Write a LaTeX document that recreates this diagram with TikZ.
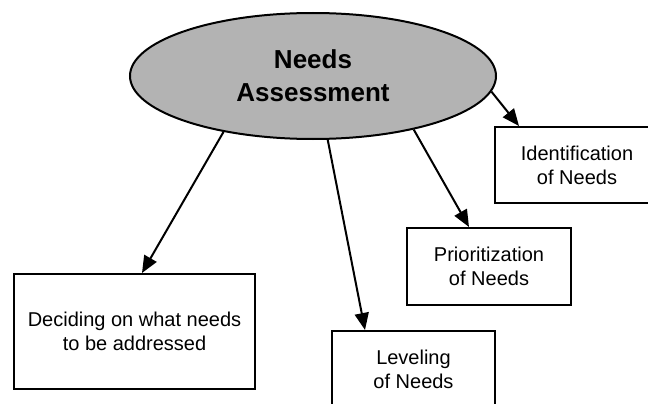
\documentclass[tikz,border=0pt]{standalone}
\usepackage{fontspec}
\setmainfont{Liberation Sans}
\usetikzlibrary{shapes.geometric,arrows.meta,calc}
\definecolor{ellgray}{RGB}{179,179,179}
\tikzset{
  mainell/.style={ellipse, draw=black, fill=ellgray, line width=2pt, inner sep=0pt,
    minimum width=366pt, minimum height=126pt, align=center,
    font=\fontsize{26pt}{33pt}\selectfont\bfseries},
  topicbox/.style={rectangle, draw=black, fill=white, line width=2pt, inner sep=0pt,
    align=center, font=\fontsize{20pt}{24pt}\selectfont},
  link/.style={line width=2pt, -{Triangle[length=17pt,width=14pt]}}
}
\begin{document}
\begin{tikzpicture}[x=1pt,y=-1pt]
\useasboundingbox (0,0) rectangle (648,404);
\clip (0,0) rectangle (648,404);
\node[mainell] (ell) at (313,76) {Needs\\Assessment};
\node[topicbox, minimum width=164pt, minimum height=76pt] (idn) at (577,165) {Identification\\of Needs};
\node[topicbox, minimum width=164pt, minimum height=77pt] (pri) at (489,266.5) {Prioritization\\of Needs};
\node[topicbox, minimum width=163pt, minimum height=77pt] (lev) at (413.5,369.5) {Leveling\\of Needs};
\node[topicbox, minimum width=241pt, minimum height=115pt] (dec) at (134.5,331.5) {Deciding on what needs\\to be addressed};
\draw[link] (ell.355) -- ($(idn.north west)+(25,0)$);
\draw[link] (ell.332.5) -- ($(pri.north west)+(63,0)$);
\draw[link] (ell.283) -- ($(lev.north west)+(34,0)$);
\draw[link] (ell.212) -- ($(dec.north)+(7.5,0)$);
\end{tikzpicture}
\end{document}
